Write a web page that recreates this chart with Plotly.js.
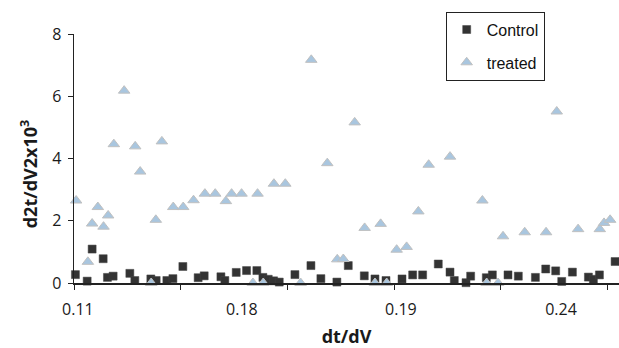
<!DOCTYPE html>
<html><head><meta charset="utf-8">
<script src="https://cdn.plot.ly/plotly-3.0.1.min.js"></script>
<style>html,body{margin:0;padding:0;background:#fff}#chart{width:619px;height:348px}</style>
</head><body><div id="chart"></div>
<script>
// Control series (dt/dV, d2t/dV2 x10^3)
const controlX = [0.1104,0.1137,0.1151,0.1182,0.1194,0.1210,0.1257,0.1271,0.1316,0.1331,0.1361,0.1378,0.1406,0.1449,0.1466,0.1513,0.1524,0.1556,0.1585,0.1614,0.1631,0.1646,0.1661,0.1677,0.1721,0.1766,0.1794,0.1839,0.1871,0.1916,0.1946,0.1977,0.2022,0.2052,0.2080,0.2124,0.2157,0.2169,0.2202,0.2215,0.2259,0.2276,0.2320,0.2349,0.2397,0.2426,0.2454,0.2471,0.2501,0.2546,0.2560,0.2577,0.2621];
const controlY = [0.27,0.06,1.09,0.78,0.18,0.22,0.31,0.08,0.13,0.08,0.08,0.14,0.53,0.17,0.23,0.2,0.08,0.34,0.4,0.4,0.18,0.12,0.07,0.03,0.27,0.56,0.14,0.03,0.56,0.23,0.13,0.08,0.13,0.26,0.26,0.61,0.35,0.08,0.01,0.22,0.17,0.26,0.26,0.22,0.18,0.45,0.39,0.05,0.35,0.19,0.12,0.26,0.69];
// Treated series
const treatedX = [0.1106,0.1139,0.1151,0.1167,0.1183,0.1196,0.1212,0.1241,0.1272,0.1286,0.1317,0.1330,0.1347,0.1379,0.1407,0.1436,0.1468,0.1497,0.1527,0.1543,0.1571,0.1603,0.1616,0.1632,0.1662,0.1694,0.1737,0.1767,0.1812,0.1840,0.1857,0.1889,0.1917,0.1946,0.1962,0.1979,0.2007,0.2035,0.2068,0.2097,0.2157,0.2248,0.2260,0.2292,0.2306,0.2367,0.2427,0.2457,0.2517,0.2578,0.2590,0.2607];
const treatedY = [2.65,0.68,1.91,2.44,1.81,2.17,4.46,6.18,4.39,3.58,0,2.03,4.55,2.44,2.44,2.66,2.87,2.87,2.63,2.87,2.87,0,2.87,0,3.19,3.19,0,7.17,3.85,0.76,0.77,5.16,1.77,0,1.9,0,1.07,1.16,2.30,3.8,4.06,2.65,0,0,1.5,1.63,1.63,5.51,1.73,1.73,1.93,2.03];
// Axis tick labels
const xTickVals = [0.1111,0.1572,0.2019,0.2469];
const xTickText = ["0.11","0.18","0.19","0.24"];
const yTickVals = [0,2,4,6,8];

const fam = '"Open Sans", "Noto Sans", sans-serif';
const tickFont = {family:fam, size:16, color:'#1a1a1a'};

const traces = [
  {x:controlX, y:controlY, type:'scatter', mode:'markers', name:'Control', legendgroup:'a',
   marker:{symbol:'square', size:8, color:'#333333', line:{width:0.5, color:'#444'}}, cliponaxis:false},
  {x:treatedX, y:treatedY, type:'scatter', mode:'markers', name:'treated', legendgroup:'b',
   marker:{symbol:'triangle-up', size:10, color:'#a9c6df', line:{width:1, color:'#c0c0c0'}}, cliponaxis:false}
];

const layout = {
  width:619, height:348,
  margin:{l:74, r:0, t:34, b:65, pad:0},
  paper_bgcolor:'#fff', plot_bgcolor:'#fff',
  showlegend:true,
  legend:{x:0.682, xanchor:'left', y:1.09, yanchor:'top',
    bordercolor:'#222', borderwidth:1, bgcolor:'#fff',
    font:{family:'"Liberation Sans", Arial, sans-serif', size:16, color:'#111'},
    traceorder:'grouped', tracegroupgap:9, itemwidth:30},
  xaxis:{range:[0.11,0.2632], showgrid:false, zeroline:false,
    showline:true, linecolor:'#222', linewidth:1.5,
    tickmode:'array', tickvals:xTickVals, ticktext:xTickText,
    ticks:'outside', ticklen:11, tickcolor:'rgba(0,0,0,0)', tickfont:tickFont,
    minor:{tickmode:'linear', tick0:0.11, dtick:0.03, ticks:'outside', ticklen:5, tickcolor:'#222', tickwidth:1, showgrid:false},
    title:{text:'<b>dt/dV</b>', font:{family:fam, size:18, color:'#1a1a1a'}, standoff:12}},
  yaxis:{range:[0,8], showgrid:false, zeroline:false,
    showline:true, linecolor:'#222', linewidth:1.5,
    tickmode:'array', tickvals:yTickVals,
    ticks:'outside', ticklen:5, tickcolor:'#222', tickfont:tickFont, ticklabelstandoff:3},
  annotations:[{text:'<b>d2t/dV2x10<sup>3</sup></b>', textangle:-90, xref:'paper', yref:'paper',
    x:-0.081, xanchor:'center', y:0.44, yanchor:'middle', showarrow:false,
    font:{family:fam, size:18, color:'#1a1a1a'}}]
};

Plotly.newPlot('chart', traces, layout, {displayModeBar:false, staticPlot:true});
</script>
</body></html>
